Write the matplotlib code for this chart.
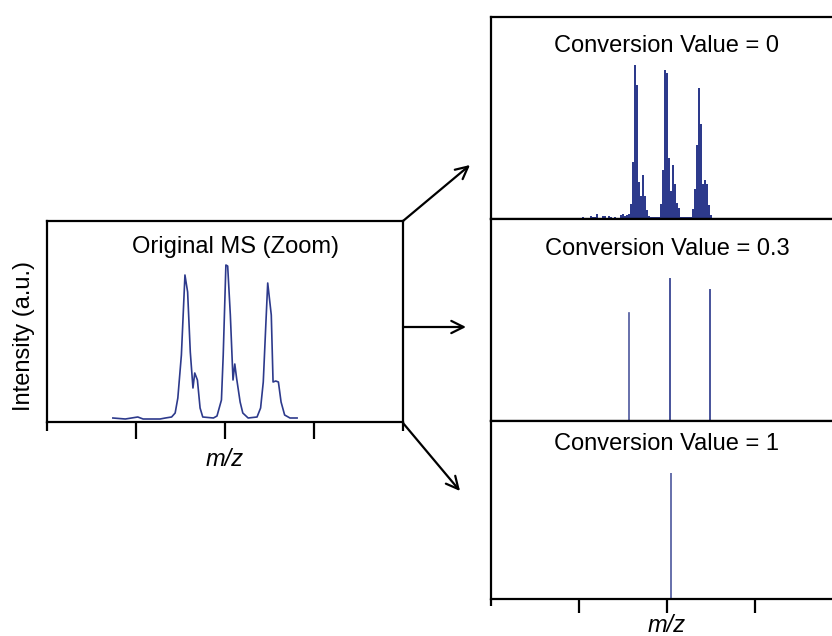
import numpy as np
import matplotlib
matplotlib.use('Agg')
import matplotlib.pyplot as plt

plt.rcParams['font.family'] = ['Liberation Sans', 'DejaVu Sans']

# original (zoomed) spectrum trace, x in axis units (0-4), y intensity
orig_mz = [0.74, 0.88, 1.02, 1.08, 1.18, 1.27, 1.33, 1.40, 1.44, 1.47, 1.51,
           1.55, 1.58, 1.61, 1.64, 1.66, 1.69, 1.72, 1.75, 1.87, 1.91, 1.96,
           1.98, 2.01, 2.03, 2.06, 2.09, 2.11, 2.13, 2.17, 2.20, 2.26, 2.36,
           2.40, 2.43, 2.46, 2.48, 2.52, 2.54, 2.57, 2.60, 2.63, 2.67, 2.73, 2.81]
orig_int = [4, 3, 5, 3, 3, 3, 4, 5, 9, 24, 67,
            147, 130, 70, 34, 49, 42, 14, 5, 4, 6, 22,
            67, 157, 156, 107, 42, 58, 44, 20, 9, 4, 5,
            14, 40, 100, 139, 107, 40, 41, 40, 20, 7, 4, 4]

# conversion value = 0 : binned spectrum (one value per channel)
cv0_start = 1.0
cv0_step = 2 / 88
cv0_int = [1, 1, 2, 1, 1, 1, 3, 2, 2, 5, 1, 1, 3, 3, 1, 3, 2, 1, 2, 1,
           1, 4, 5, 3, 4, 5, 15, 57, 154, 134, 37, 23, 44, 23, 9, 3, 2, 2,
           2, 2, 2, 15, 49, 149, 146, 61, 28, 54, 35, 16, 11, 2, 2, 2, 2,
           2, 2, 10, 30, 74, 131, 95, 35, 39, 35, 14, 4]

# conversion value = 0.3 : three sticks
cv03_mz = [1.568, 2.034, 2.489]
cv03_int = [108, 142, 131]

# conversion value = 1 : single stick
cv1_mz = [2.045]
cv1_int = [126]

navy = '#2d3a8c'
fs = 17
W, H = 832, 636
fig = plt.figure(figsize=(W / 100, H / 100), dpi=100)


def frac(x0, y0, x1, y1):
    return [x0 / W, 1 - y1 / H, (x1 - x0) / W, (y1 - y0) / H]


def style(ax, ticks=True, tlen=12.5):
    ax.set_xlim(0, 4)
    ax.set_yticks([])
    for s in ax.spines.values():
        s.set_linewidth(1.6)
        s.set_color('black')
    if ticks:
        ax.set_xticks([1, 2, 3])
        ax.set_xticks([0, 4], minor=True)
        ax.tick_params(axis='x', which='major', direction='out', length=tlen, width=1.6, labelbottom=False)
        ax.tick_params(axis='x', which='minor', direction='out', length=tlen / 2, width=1.6, labelbottom=False)
    else:
        ax.set_xticks([])


# left panel
ax0 = fig.add_axes(frac(47, 221, 403, 422))
ax0.plot(orig_mz, orig_int, color=navy, lw=1.2)
ax0.set_ylim(0, 201)
style(ax0)
ax0.text(2.12, 175, 'Original MS (Zoom)', ha='center', va='center', fontsize=fs)
ax0.set_ylabel('Intensity (a.u.)', fontsize=fs)
ax0.yaxis.set_label_coords(-0.035, 0.43)
ax0.set_xlabel('m/z', fontsize=fs, style='italic', labelpad=6)

# right panels
ax1 = fig.add_axes(frac(491, 17, 843, 219))
pos = [cv0_start + i * cv0_step for i in range(len(cv0_int))]
ax1.bar(pos, cv0_int, width=0.013, color=navy, edgecolor='none')
ax1.set_ylim(0, 202)
style(ax1, ticks=False)
ax1.text(2.0, 173, 'Conversion Value = 0', ha='center', va='center', fontsize=fs)

ax2 = fig.add_axes(frac(491, 219, 843, 421))
px, py = [], []
for i, (m, v) in enumerate(zip(cv03_mz, cv03_int)):
    if i == 0:
        px += [m, m]
        py += [v, 0]
    else:
        px += [m, m, m]
        py += [0, v, 0]
ax2.plot(px, py, color=navy, lw=1.2, alpha=0.85)
ax2.set_ylim(0, 202)
style(ax2, ticks=False)
ax2.text(2.0, 172, 'Conversion Value = 0.3', ha='center', va='center', fontsize=fs)

ax3 = fig.add_axes(frac(491, 421, 843, 599))
ax3.vlines(cv1_mz, 0, cv1_int, color=navy, lw=1.2, alpha=0.85)
ax3.set_ylim(0, 178)
style(ax3, tlen=10)
ax3.set_xticks([0], minor=True)
ax3.text(2.0, 155, 'Conversion Value = 1', ha='center', va='center', fontsize=fs)
ax3.set_xlabel('m/z', fontsize=fs, style='italic', labelpad=1)

# arrows from the left panel to the right panels
arrows = [((403, 221), (470, 165)), ((403, 327), (466, 327)), ((403, 423), (460, 491))]
for (x0, y0), (x1, y1) in arrows:
    fig.add_artist(matplotlib.patches.FancyArrowPatch(
        (x0 / W, 1 - y0 / H), (x1 / W, 1 - y1 / H), transform=fig.transFigure,
        arrowstyle='->', mutation_scale=22, lw=1.6, color='black', shrinkA=0, shrinkB=0))

fig.savefig('out.png', dpi=100)
